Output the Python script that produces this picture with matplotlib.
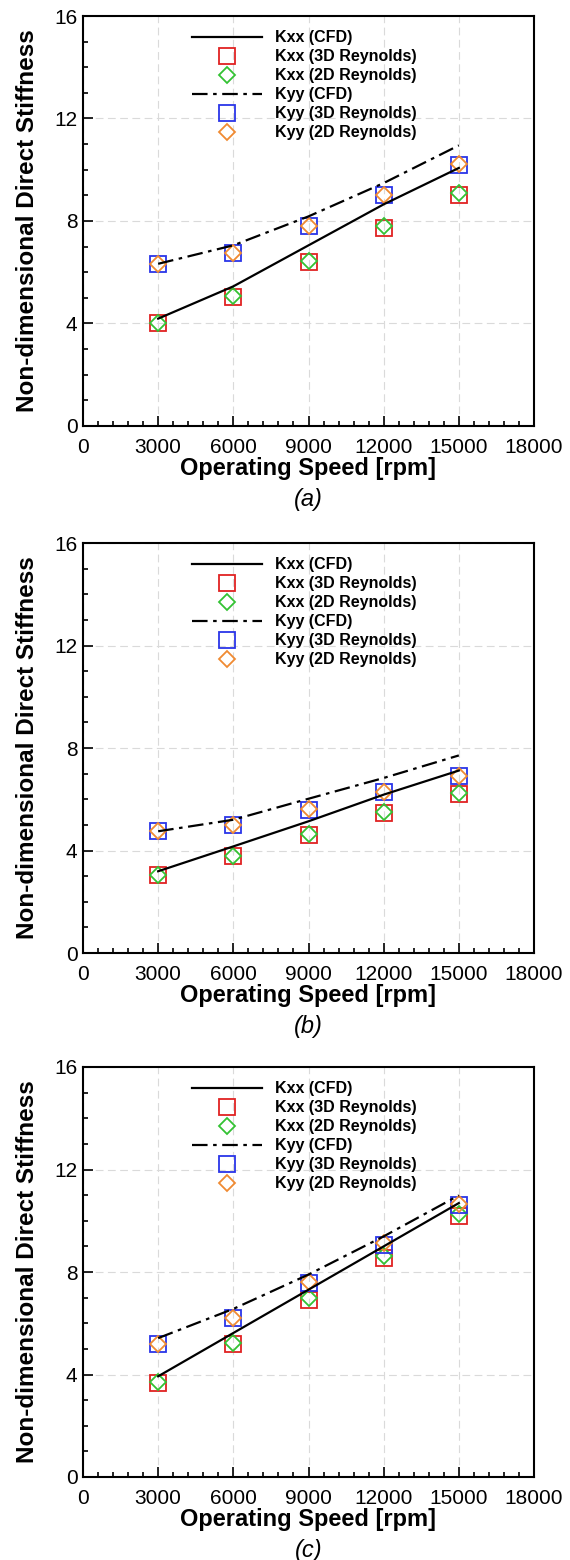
import matplotlib
matplotlib.use("Agg")
import matplotlib.pyplot as plt
from matplotlib.ticker import MultipleLocator

plt.rcParams['font.family'] = ['Liberation Sans', 'DejaVu Sans']

speeds = [3000, 6000, 9000, 12000, 15000]

# Panel (a)
kxx_cfd_a = [4.19, 5.45, 7.05, 8.65, 10.07]
kxx_3d_a = [4.00, 5.03, 6.40, 7.74, 9.00]
kxx_2d_a = [4.02, 5.06, 6.43, 7.80, 9.10]
kyy_cfd_a = [6.33, 7.05, 8.18, 9.48, 10.95]
kyy_3d_a = [6.33, 6.75, 7.80, 9.00, 10.20]
kyy_2d_a = [6.33, 6.75, 7.80, 9.03, 10.21]

# Panel (b)
kxx_cfd_b = [3.19, 4.16, 5.14, 6.18, 7.12]
kxx_3d_b = [3.03, 3.77, 4.62, 5.46, 6.22]
kxx_2d_b = [3.06, 3.77, 4.66, 5.49, 6.24]
kyy_cfd_b = [4.75, 5.20, 6.02, 6.83, 7.71]
kyy_3d_b = [4.75, 5.00, 5.59, 6.27, 6.92]
kyy_2d_b = [4.75, 5.00, 5.62, 6.27, 6.92]

# Panel (c)
kxx_cfd_c = [3.93, 5.62, 7.31, 9.00, 10.69]
kxx_3d_c = [3.67, 5.20, 6.92, 8.55, 10.20]
kxx_2d_c = [3.69, 5.23, 6.97, 8.61, 10.28]
kyy_cfd_c = [5.42, 6.56, 7.90, 9.39, 10.99]
kyy_3d_c = [5.20, 6.20, 7.57, 9.07, 10.60]
kyy_2d_c = [5.20, 6.19, 7.61, 9.13, 10.67]

panel_labels = ['(a)', '(b)', '(c)']
series_labels = ['Kxx (CFD)', 'Kxx (3D Reynolds)', 'Kxx (2D Reynolds)',
                 'Kyy (CFD)', 'Kyy (3D Reynolds)', 'Kyy (2D Reynolds)']
x_ticks = [0, 3000, 6000, 9000, 12000, 15000, 18000]
y_ticks = [0, 4, 8, 12, 16]

panels = [
    (kxx_cfd_a, kxx_3d_a, kxx_2d_a, kyy_cfd_a, kyy_3d_a, kyy_2d_a),
    (kxx_cfd_b, kxx_3d_b, kxx_2d_b, kyy_cfd_b, kyy_3d_b, kyy_2d_b),
    (kxx_cfd_c, kxx_3d_c, kxx_2d_c, kyy_cfd_c, kyy_3d_c, kyy_2d_c),
]

W, H = 570, 1560
fig = plt.figure(figsize=(W / 100, H / 100), dpi=100)

# axes pixel boxes (left, top, right, bottom)
boxes = [(83, 16, 534, 426), (83, 543, 534, 953), (83, 1067, 534, 1477)]

red = '#e02222'
green = '#33c233'
blue = '#2a35e8'
orange = '#f08a32'

for (l, t, r, b), data, plab in zip(boxes, panels, panel_labels):
    ax = fig.add_axes([l / W, 1 - b / H, (r - l) / W, (b - t) / H])
    kxx_cfd, kxx_3d, kxx_2d, kyy_cfd, kyy_3d, kyy_2d = data

    h1, = ax.plot(speeds, kxx_cfd, color='black', lw=1.6, zorder=5)
    h2, = ax.plot(speeds, kxx_3d, ls='none', marker='s', ms=11, mfc='none',
                  mec=red, mew=1.3, zorder=3)
    h3, = ax.plot(speeds, kxx_2d, ls='none', marker='D', ms=7.8, mfc='none',
                  mec=green, mew=1.3, zorder=3)
    h4, = ax.plot(speeds, kyy_cfd, color='black', lw=1.6,
                  ls=(0, (7, 2.5, 1.6, 2.5)), zorder=5)
    h5, = ax.plot(speeds, kyy_3d, ls='none', marker='s', ms=11, mfc='none',
                  mec=blue, mew=1.3, zorder=3)
    h6, = ax.plot(speeds, kyy_2d, ls='none', marker='D', ms=7.8, mfc='none',
                  mec=orange, mew=1.3, zorder=4)

    ax.set_xlim(0, 18000)
    ax.set_ylim(0, 16)
    ax.set_xticks(x_ticks)
    ax.set_yticks(y_ticks)
    ax.xaxis.set_minor_locator(MultipleLocator(600))
    ax.yaxis.set_minor_locator(MultipleLocator(1))
    ax.tick_params(which='both', direction='in', top=False, right=False,
                   labelsize=15, width=1.2)
    ax.tick_params(which='major', length=7)
    ax.tick_params(axis='y', which='major', pad=4)
    ax.tick_params(axis='x', which='major', pad=8.5)
    ax.tick_params(which='minor', length=3.5)
    ax.grid(True, which='major', color='#dadada', ls=(0, (7, 4)), lw=0.8)
    for s in ax.spines.values():
        s.set_linewidth(1.5)

    ax.set_xlabel('Operating Speed [rpm]', fontsize=17, fontweight='bold',
                  labelpad=0)
    ax.text(0.5, -0.18, plab, transform=ax.transAxes, ha='center',
            va='center', fontsize=17, fontstyle='italic')
    fig.text(28 / W, 1 - ((t + b) / 2) / H, 'Non-dimensional Direct Stiffness',
             rotation=90, ha='center', va='center', fontsize=17.5,
             fontweight='bold')

    leg = ax.legend([h1, h2, h3, h4, h5, h6], series_labels,
                    loc='upper left', bbox_to_anchor=(0.242, 0.965),
                    frameon=False, borderpad=0, borderaxespad=0,
                    handlelength=4.4, handletextpad=0.8, labelspacing=0.25,
                    numpoints=1, prop={'size': 11.5, 'weight': 'bold'})

fig.savefig('out.png', dpi=100)
